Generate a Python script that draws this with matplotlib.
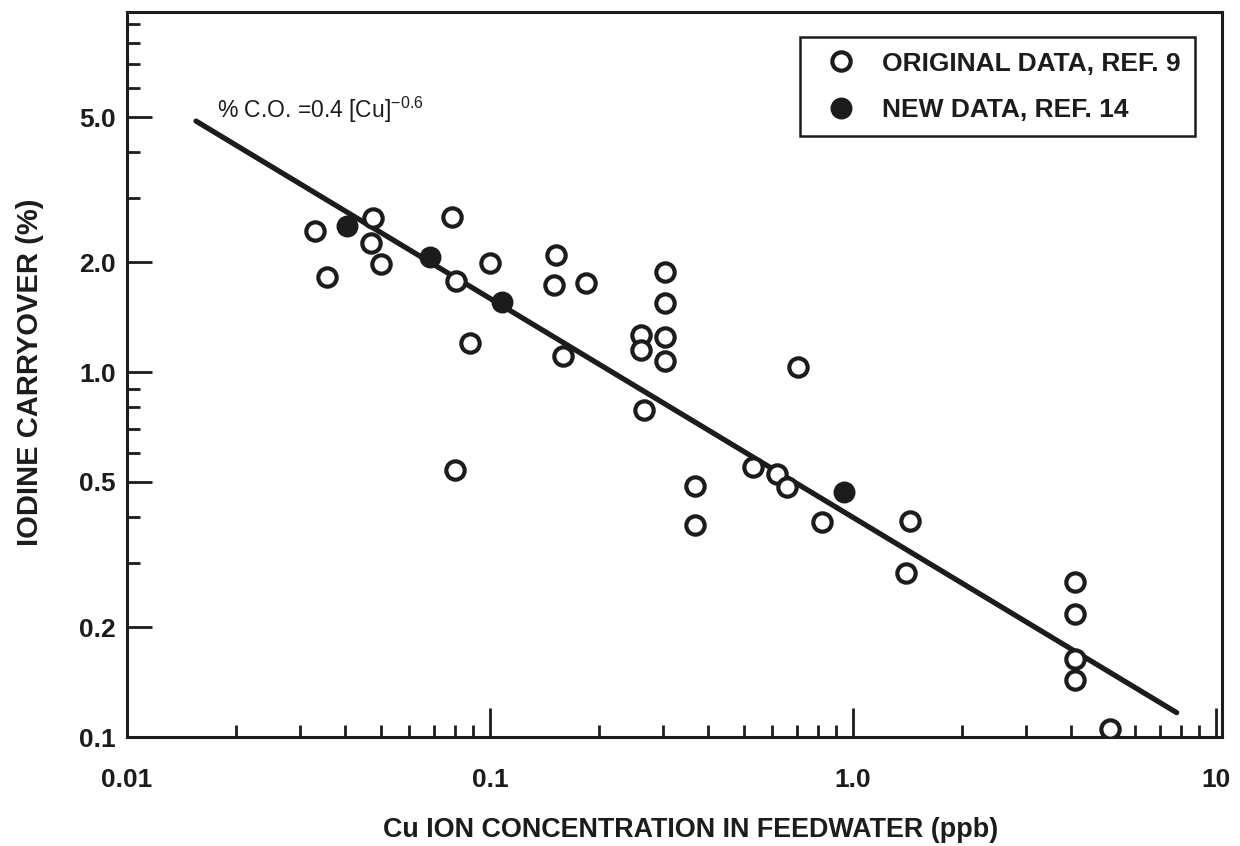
import numpy as np
import matplotlib
matplotlib.use('Agg')
import matplotlib.pyplot as plt
from matplotlib.ticker import FixedLocator, FixedFormatter, NullFormatter

plt.rcParams['font.family'] = ['Liberation Sans', 'DejaVu Sans']

# Original data (Ref. 9): Cu ion concentration (ppb) vs iodine carryover (%)
orig_cu = [0.033, 0.0355, 0.0475, 0.047, 0.050, 0.0785, 0.0805, 0.080,
           0.088, 0.100, 0.152, 0.150, 0.184, 0.159, 0.261, 0.261, 0.265,
           0.304, 0.304, 0.304, 0.304, 0.368, 0.368, 0.705, 0.530, 0.617,
           0.657, 0.821, 1.44, 1.40, 4.08, 4.08, 4.10, 4.10, 5.10]
orig_co = [2.43, 1.82, 2.64, 2.26, 1.98, 2.66, 1.78, 0.539,
           1.20, 1.99, 2.09, 1.73, 1.75, 1.11, 1.26, 1.15, 0.787,
           1.88, 1.55, 1.25, 1.07, 0.487, 0.381, 1.03, 0.549, 0.526,
           0.484, 0.388, 0.391, 0.281, 0.266, 0.217, 0.164, 0.143, 0.105]

# New data (Ref. 14)
new_cu = [0.0403, 0.0683, 0.108, 0.945]
new_co = [2.51, 2.07, 1.56, 0.469]

# Correlation %C.O. = 0.4 [Cu]^-0.6
fit_coef = 0.4
fit_exp = -0.6
fit_range = [0.0155, 7.8]

x_major = [0.01, 0.1, 1.0, 10]
x_major_labels = ['0.01', '0.1', '1.0', '10']
y_major = [0.1, 0.2, 0.5, 1.0, 2.0, 5.0]
y_major_labels = ['0.1', '0.2', '0.5', '1.0', '2.0', '5.0']

ink = '#1c1c1c'

fig = plt.figure(figsize=(12.4, 8.46), dpi=100)
ax = fig.add_axes([0.1024, 0.1288, 0.8831, 0.857])

cu_fit = np.logspace(np.log10(fit_range[0]), np.log10(fit_range[1]), 50)
ax.plot(cu_fit, fit_coef * cu_fit ** fit_exp, color=ink, lw=3.8,
        solid_capstyle='round', zorder=2)

h_orig, = ax.plot(orig_cu, orig_co, 'o', ls='none', ms=13.2, mfc='white',
                  mec=ink, mew=3.0, zorder=3)
h_new, = ax.plot(new_cu, new_co, 'o', ls='none', ms=13.8, mfc=ink,
                 mec=ink, mew=2.0, zorder=3)

ax.set_xscale('log')
ax.set_yscale('log')
ax.set_xlim(0.01, 10.4)
ax.set_ylim(0.1, 9.7)

# ticks only on the bottom and left, pointing inward
ax.xaxis.set_major_locator(FixedLocator(x_major))
ax.xaxis.set_major_formatter(FixedFormatter(x_major_labels))
x_minor = [m * d for d in [0.01, 0.1, 1.0] for m in range(2, 10)]
ax.xaxis.set_minor_locator(FixedLocator(x_minor))
ax.xaxis.set_minor_formatter(NullFormatter())

ax.yaxis.set_major_locator(FixedLocator(y_major))
ax.yaxis.set_major_formatter(FixedFormatter(y_major_labels))
y_minor = [0.3, 0.4, 0.6, 0.7, 0.8, 0.9, 3, 4, 6, 7, 8, 9]
ax.yaxis.set_minor_locator(FixedLocator(y_minor))
ax.yaxis.set_minor_formatter(NullFormatter())

ax.tick_params(which='both', direction='in', top=False, right=False,
               color=ink, width=2.0)
ax.tick_params(which='major', length=18)
ax.tick_params(which='minor', length=9)
ax.tick_params(axis='x', which='major', length=21, pad=22)
ax.tick_params(axis='y', which='major', pad=8)
for lab in ax.get_xticklabels() + ax.get_yticklabels():
    lab.set_fontsize(19)
    lab.set_fontweight('bold')
    lab.set_color(ink)

for sp in ax.spines.values():
    sp.set_linewidth(2.2)
    sp.set_color(ink)

ax.text(0.01774, 5.22, r'% C.O. =0.4 [Cu]$^{\mathregular{-0.6}}$',
        fontsize=16.5, color=ink, ha='left', va='center')

leg = ax.legend([h_orig, h_new],
                ['ORIGINAL DATA, REF. 9', 'NEW DATA, REF. 14'],
                loc='upper right', bbox_to_anchor=(0.975, 0.9655),
                fancybox=False, edgecolor=ink, framealpha=1,
                prop={'size': 19, 'weight': 'bold'}, handlelength=2.0,
                handletextpad=0.55, borderpad=0.55, labelspacing=0.85,
                borderaxespad=0)
leg.get_frame().set_linewidth(1.8)
for t in leg.get_texts():
    t.set_color(ink)

fig.text(0.557, 0.019, 'Cu ION CONCENTRATION IN FEEDWATER (ppb)',
         fontsize=19.4, fontweight='bold', color=ink, ha='center',
         va='center')
fig.text(0.024, 0.56, 'IODINE CARRYOVER (%)', fontsize=21,
         fontweight='bold', color=ink, ha='center', va='center',
         rotation=90)

fig.savefig('out.png', dpi=100, facecolor='white')
